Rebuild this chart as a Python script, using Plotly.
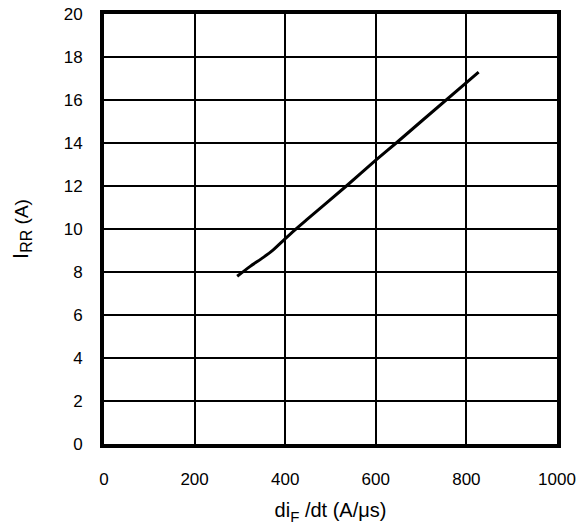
import plotly.graph_objects as go

di_dt = [294, 322, 351, 373, 399, 421, 447, 535, 600, 645, 700, 827]
i_rr = [7.8, 8.25, 8.67, 9.02, 9.53, 9.95, 10.42, 12.0, 13.2, 14.0, 15.0, 17.3]

x_ticks = [0, 200, 400, 600, 800, 1000]
y_ticks = [0, 2, 4, 6, 8, 10, 12, 14, 16, 18, 20]

fig = go.Figure()
fig.add_trace(go.Scatter(x=di_dt, y=i_rr, mode="lines", line_shape="spline",
                         line=dict(color="black", width=3, smoothing=0.6), showlegend=False))

font = dict(family="Liberation Sans, Arial, sans-serif", size=17, color="black")

fig.update_layout(
    width=581, height=531,
    margin=dict(l=104, r=24, t=14, b=87, autoexpand=False),
    paper_bgcolor="white", plot_bgcolor="white",
    font=font,
    xaxis=dict(range=[0, 1000], tickvals=x_ticks, showgrid=True, gridcolor="black",
               gridwidth=2, showline=True, linecolor="black", linewidth=4, mirror=True,
               ticks="outside", ticklen=17, tickcolor="rgba(0,0,0,0)", zeroline=False,
               automargin=False, ticklabeloverflow="allow",
               title=dict(text="di<sub><span style='font-size:15px'>F</span></sub> /dt (A/μs)",
                          font=dict(size=20), standoff=16)),
    yaxis=dict(range=[0, 20], tickvals=y_ticks, showgrid=True, gridcolor="black",
               gridwidth=2, showline=True, linecolor="black", linewidth=4, mirror=True,
               ticks="outside", ticklen=14, tickcolor="rgba(0,0,0,0)", zeroline=False,
               automargin=False, ticklabeloverflow="allow",
               title=dict(text="<span style='font-size:22px'>I</span><sub><span style='font-size:16px'>RR</span></sub> (A)",
                          font=dict(size=19), standoff=31)),
)

fig.write_html("out.html", config={"displayModeBar": False},
               post_script="document.body.style.margin='0';")
